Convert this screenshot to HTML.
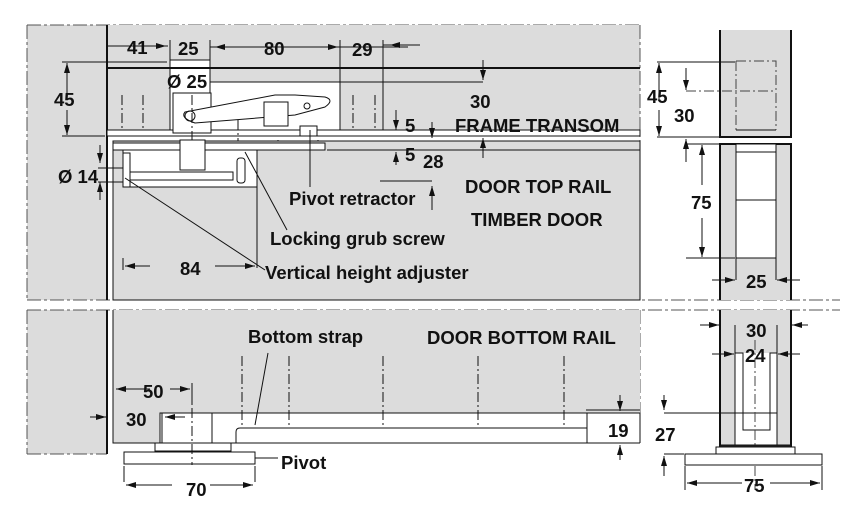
<!DOCTYPE html>
<html><head><meta charset="utf-8"><style>
html,body{margin:0;padding:0;background:#fff;}
svg{display:block;}
text{font-family:"Liberation Sans",Arial,sans-serif;font-weight:bold;fill:#111;}
</style></head><body>
<svg width="844" height="516" viewBox="0 0 844 516" xmlns="http://www.w3.org/2000/svg">
<defs>
<marker id="a" markerWidth="10" markerHeight="6" refX="10" refY="3" orient="auto-start-reverse" markerUnits="userSpaceOnUse"><path d="M0,0 L10,3 L0,6 z" fill="#111"/></marker>
</defs>
<g stroke="#111" stroke-width="1" fill="none">
<rect x="27" y="25" width="80" height="275" fill="#dcdcdc" stroke="none"/>
<rect x="27" y="310" width="80" height="144" fill="#dcdcdc" stroke="none"/>
<path d="M27 25 V300 M27 310 V454 M27 25 H640 M27 300 H840 M27 310 H840 M27 454 H107" stroke="#555" stroke-dasharray="14,3,3,3"/>
<path d="M107 25 V300 M107 310 V454" stroke-width="2"/>
<rect x="108" y="25" width="532" height="111" fill="#dcdcdc" stroke="none"/>
<path d="M640 25 V300 M640 310 V413" stroke="#555" stroke-dasharray="14,3,3,3"/>
<rect x="170" y="60" width="40" height="72" fill="#fff" stroke="#111"/>
<rect x="210" y="82" width="130" height="50" fill="#fff" stroke="#111"/>
<rect x="107" y="130" width="533" height="6" fill="#fff"/>
<path d="M107 68 H640" stroke-width="2"/>
<rect x="173" y="93" width="38" height="40" fill="#fff"/>
<path d="M185 112 L275 95 L295 95 L325 97 Q335 100 325 107 L295 115 L195 123 Q180 118 185 112 z" fill="#fff"/>
<circle cx="190" cy="116" r="5"/><circle cx="276" cy="109" r="3"/><circle cx="307" cy="106" r="3"/>
<rect x="264" y="102" width="24" height="24" fill="#fff"/>
<rect x="300" y="126" width="17" height="10" fill="#fff"/>
<path d="M122 95 V130 M143 95 V130 M353 95 V130 M375 95 V130 M192 95 V175 M238 120 V170 M278 140 V170 M318 140 V170" stroke-dasharray="10,3,2,3"/>
<rect x="113" y="141" width="527" height="159" fill="#dcdcdc"/>
<rect x="113" y="143" width="212" height="7" fill="#fff"/>
<path d="M327 150 H640"/>
<rect x="123" y="150" width="134" height="37" fill="#fff"/>
<rect x="123" y="153" width="7" height="34" fill="#fff"/>
<rect x="130" y="172" width="103" height="8" fill="#fff"/>
<rect x="180" y="140" width="25" height="30" fill="#fff"/>
<rect x="237" y="158" width="8" height="25" rx="3" fill="#fff"/>
<path d="M257 187 V268"/>
<path d="M310 130 V187 M245 152 L287 230 M125 178 L265 270"/>
<path d="M107 46 H168 M210 47 H340 M340 47 H408 M383 45 H408 M420 45 H395" />
<path d="M110 46 H125 M147 46 H166" marker-end="url(#a)"/>
<path d="M262 47 H215" marker-end="url(#a)"/><path d="M290 47 H338" marker-end="url(#a)"/>
<path d="M408 45 H390" marker-end="url(#a)"/>
<path d="M170 40 V60 M210 40 V60 M340 40 V82 M383 40 V130 M62 62 H167 M62 136 H105 M210 82 H483"/>
<path d="M67 100 V63" marker-end="url(#a)"/><path d="M67 110 V135" marker-end="url(#a)"/>
<path d="M483 60 V80" marker-end="url(#a)"/><path d="M483 158 V138" marker-end="url(#a)"/>
<path d="M396 110 V130" marker-end="url(#a)"/><path d="M396 165 V152" marker-end="url(#a)"/>
<path d="M432 122 V138" marker-end="url(#a)"/><path d="M432 210 V186" marker-end="url(#a)"/>
<path d="M100 145 V163" marker-end="url(#a)"/><path d="M100 200 V182" marker-end="url(#a)"/>
<path d="M98 168 H123 M98 182 H123 M380 181 H432 M123 258 V270"/>
<path d="M150 266 H125" marker-end="url(#a)"/><path d="M215 266 H255" marker-end="url(#a)"/>
<rect x="113" y="310" width="527" height="103" fill="#dcdcdc" stroke="none"/>
<rect x="113" y="413" width="474" height="30" fill="#dcdcdc" stroke="none"/>
<path d="M113 310 V443 H640 M587 413 H640 V443" />
<rect x="160" y="413" width="427" height="30" fill="#fff"/>
<path d="M236 443 V432 Q236 428 240 428 H587"/>
<rect x="162" y="413" width="50" height="30" fill="#fff"/>
<rect x="155" y="443" width="76" height="8" fill="#fff"/>
<rect x="124" y="452" width="131" height="12" fill="#fff"/>
<path d="M242 356 V428 M289 356 V428 M383 356 V428 M478 356 V428 M564 356 V428 M192 390 V465" stroke-dasharray="10,3,2,3"/>
<path d="M268 353 L255 425 M255 458 H278"/>
<path d="M124 466 V482 M255 466 V482 M192 383 V405 M586 410 H640 M586 443 H640"/>
<path d="M150 389 H116" marker-end="url(#a)"/><path d="M170 389 H190" marker-end="url(#a)"/>
<path d="M90 417 H106" marker-end="url(#a)"/><path d="M185 417 H165" marker-end="url(#a)"/>
<path d="M172 485 H126" marker-end="url(#a)"/><path d="M210 485 H253" marker-end="url(#a)"/>
<path d="M620 395 V411" marker-end="url(#a)"/><path d="M620 460 V445" marker-end="url(#a)"/>
<rect x="720" y="30" width="71" height="107" fill="#dcdcdc" stroke="none"/>
<path d="M720 30 V137 H791 V30" stroke-width="2"/>
<path d="M736 61 H776 V130 M736 61 V130 M686 91 H776" stroke-dasharray="10,3,2,3" stroke="#444"/>
<path d="M736 130 H776"/>
<rect x="720" y="144" width="71" height="156" fill="#dcdcdc" stroke="none"/>
<path d="M720 300 V144 H791 V300" stroke-width="2"/>
<rect x="736" y="144" width="40" height="114" fill="#fff"/>
<path d="M736 152 H776 M736 200 H776 M736 258 V280 M776 258 V280 M686 258 H735 M657 137 H719 M657 62 H735 M685 144 H720"/>
<path d="M659 100 V63" marker-end="url(#a)"/><path d="M659 110 V136" marker-end="url(#a)"/>
<path d="M686 68 V90" marker-end="url(#a)"/><path d="M686 162 V139" marker-end="url(#a)"/>
<path d="M702 185 V145" marker-end="url(#a)"/><path d="M702 218 V257" marker-end="url(#a)"/>
<path d="M712 280 H735" marker-end="url(#a)"/><path d="M800 280 H777" marker-end="url(#a)"/>
<rect x="720" y="310" width="71" height="137" fill="#dcdcdc" stroke="none"/>
<path d="M720 310 V447 M791 310 V447" stroke-width="2"/>
<rect x="735" y="353" width="42" height="92" fill="#fff" stroke="none"/>
<path d="M735 325 V353 M777 325 V353"/>
<path d="M735 353 H743 V430 H770 V353 H777" />
<path d="M735 353 V445 M777 353 V445 M664 413 H735 M735 413 H777"/>
<path d="M755 340 V490" stroke-dasharray="10,3,2,3" stroke="#444"/>
<rect x="720" y="445" width="71" height="3" fill="#222"/>
<rect x="716" y="447" width="79" height="7" fill="#fff"/>
<rect x="685" y="454" width="137" height="11" fill="#fff"/>
<path d="M685 466 V490 M822 466 V490 M664 454 H684"/>
<path d="M700 325 H719" marker-end="url(#a)"/><path d="M808 325 H792" marker-end="url(#a)"/>
<path d="M712 354 H734" marker-end="url(#a)"/><path d="M800 354 H778" marker-end="url(#a)"/>
<path d="M664 395 V410" marker-end="url(#a)"/><path d="M664 476 V456" marker-end="url(#a)"/>
<path d="M742 483 H687" marker-end="url(#a)"/><path d="M770 483 H820" marker-end="url(#a)"/>
</g>
<g font-size="18.5">
<text x="127" y="54">41</text><text x="178" y="55">25</text><text x="264" y="55">80</text><text x="352" y="56">29</text>
<text x="167" y="88">Ø 25</text><text x="54" y="106">45</text><text x="470" y="108">30</text>
<text x="405" y="132">5</text><text x="455" y="132">FRAME TRANSOM</text>
<text x="405" y="161">5</text><text x="423" y="168">28</text>
<text x="58" y="183">Ø 14</text>
<text x="465" y="193">DOOR TOP RAIL</text>
<text x="289" y="205">Pivot retractor</text>
<text x="471" y="226">TIMBER DOOR</text>
<text x="270" y="245">Locking grub screw</text>
<text x="180" y="275">84</text>
<text x="265" y="279">Vertical height adjuster</text>
<text x="248" y="343">Bottom strap</text>
<text x="427" y="344">DOOR BOTTOM RAIL</text>
<text x="143" y="398">50</text><text x="126" y="426">30</text>
<text x="608" y="437">19</text>
<text x="281" y="469">Pivot</text>
<text x="186" y="496">70</text>
<text x="647" y="103">45</text><text x="674" y="122">30</text>
<text x="691" y="209">75</text>
<text x="746" y="288">25</text>
<text x="746" y="337">30</text><text x="745" y="362">24</text>
<text x="655" y="441">27</text>
<text x="744" y="492">75</text>
</g>
</svg>
</body></html>
